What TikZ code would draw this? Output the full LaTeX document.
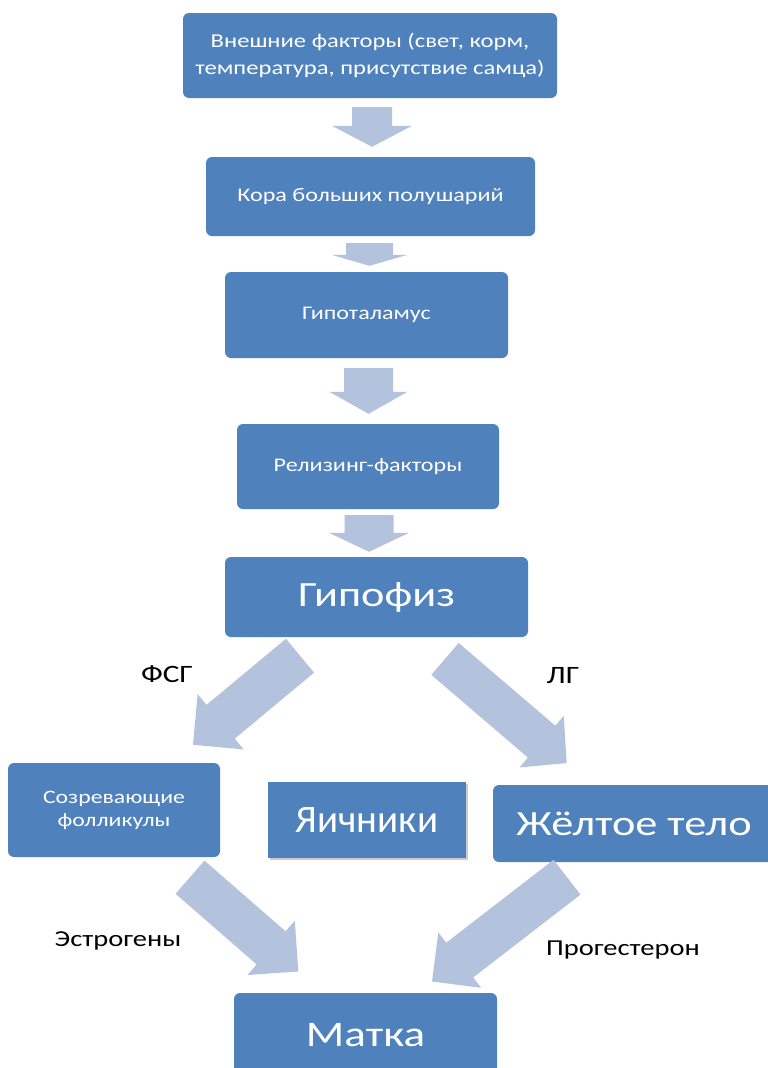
\documentclass[tikz,border=0pt]{standalone}
\usepackage{fontspec}
\setmainfont{Carlito}[FakeStretch=1.25]
\newfontfamily\plainfont{Carlito}
\usetikzlibrary{calc, shadows}
\definecolor{boxblue}{HTML}{4F81BD}
\definecolor{arrowblue}{HTML}{B3C3DE}
\tikzset{
    box/.style={fill=boxblue, rounded corners=6pt, text=white, align=center, inner sep=2pt},
    smallbox/.style={box, font=\fontsize{19.3}{27}\selectfont},
    bigbox/.style={box, font=\fontsize{35.5}{40}\selectfont},
    lbl/.style={font=\fontsize{22.8}{26}\selectfont}
}
% block arrow: tail, tip, half shaft, half head, head length
\newcommand{\blkarrow}[5]{%
    \coordinate (hb) at ($(#2)!#5!(#1)$);
    \fill[arrowblue] ($(#1)!#3!90:(#2)$) -- ($(hb)!#3!90:(#2)$) -- ($(hb)!#4!90:(#2)$) -- (#2)
        -- ($(hb)!#4!-90:(#2)$) -- ($(hb)!#3!-90:(#2)$) -- ($(#1)!#3!-90:(#2)$) -- cycle;
}
\begin{document}
\begin{tikzpicture}[x=1pt, y=-1pt]
    \useasboundingbox (0,0) rectangle (768,1068);
    \node[smallbox, minimum width=374pt, minimum height=85pt, font=\fontsize{19.7}{27}\selectfont] (ext) at (370,55.5)
        {Внешние факторы (свет, корм,\\температура, присутствие самца)};
    \node[smallbox, minimum width=329pt, minimum height=79pt] (cortex) at (370.5,196.5) {Кора больших полушарий};
    \node[smallbox, minimum width=283pt, minimum height=86pt] (hypo) at (366.5,315) {Гипоталамус};
    \node[smallbox, minimum width=262pt, minimum height=85pt] (rel) at (368,466.5) {Релизинг-факторы};
    \node[bigbox, minimum width=303pt, minimum height=80pt] (pit) at (376.5,597) {Гипофиз};
    \node[smallbox, minimum width=212pt, minimum height=94pt, font=\fontsize{19}{23}\selectfont] (foll) at (114,810)
        {Созревающие\\фолликулы};
    \node[bigbox, rounded corners=0pt, drop shadow={shadow xshift=2pt, shadow yshift=-2pt, opacity=0.4},
        minimum width=198pt, minimum height=76pt, font=\plainfont\fontsize{39}{40}\selectfont] (ovar) at (367,820) {Яичники};
    \node[bigbox, minimum width=282pt, minimum height=77pt] (corp) at (634,823.5) {Жёлтое тело};
    \node[bigbox, minimum width=263pt, minimum height=85pt, font=\fontsize{36}{40}\selectfont] (uter) at (365.5,1035.5) {Матка};

    \coordinate (a1t) at ($(ext.south)+(2,9)$);
    \coordinate (a1h) at ($(cortex.north)+(1.5,-10)$);
    \coordinate (a2t) at ($(cortex.south)+(-1,7)$);
    \coordinate (a2h) at ($(hypo.north)+(3,-6)$);
    \coordinate (a3t) at ($(hypo.south)+(2,10)$);
    \coordinate (a3h) at ($(rel.north)+(0.5,-10)$);
    \coordinate (a4t) at ($(rel.south)+(1,6)$);
    \coordinate (a4h) at ($(pit.north)+(-7.5,-5)$);
    \coordinate (fsht) at ($(pit.south)+(-76.5,18.5)$);
    \coordinate (fshh) at ($(foll.north)+(79,-18)$);
    \coordinate (lht) at ($(pit.south)+(68.5,21.7)$);
    \coordinate (lhh) at ($(corp.north)+(-67.3,-21.7)$);
    \coordinate (estt) at ($(foll.south)+(76,20)$);
    \coordinate (esth) at ($(uter.north)+(-67.2,-21.3)$);
    \coordinate (prot) at ($(corp.south)+(-67,15)$);
    \coordinate (proh) at ($(uter.north)+(66.5,-11.3)$);

    \blkarrow{a1t}{a1h}{20pt}{40pt}{21pt}
    \blkarrow{a2t}{a2h}{23.5pt}{38pt}{11pt}
    \blkarrow{a3t}{a3h}{24.5pt}{39pt}{22pt}
    \blkarrow{a4t}{a4h}{24.5pt}{40pt}{19pt}
    \blkarrow{fsht}{fshh}{22pt}{36pt}{36pt}
    \blkarrow{lht}{lhh}{21pt}{34pt}{33pt}
    \blkarrow{estt}{esth}{22pt}{36pt}{36pt}
    \blkarrow{prot}{proh}{22pt}{35pt}{35pt}

    \node[lbl, font=\fontsize{25}{26}\selectfont] (fsh) at (167,674) {ФСГ};
    \node[lbl, font=\fontsize{25}{26}\selectfont] (lh) at (563,676) {ЛГ};
    \node[lbl] (est) at (118,941) {Эстрогены};
    \node[lbl] (pro) at (623,950) {Прогестерон};
\end{tikzpicture}
\end{document}
